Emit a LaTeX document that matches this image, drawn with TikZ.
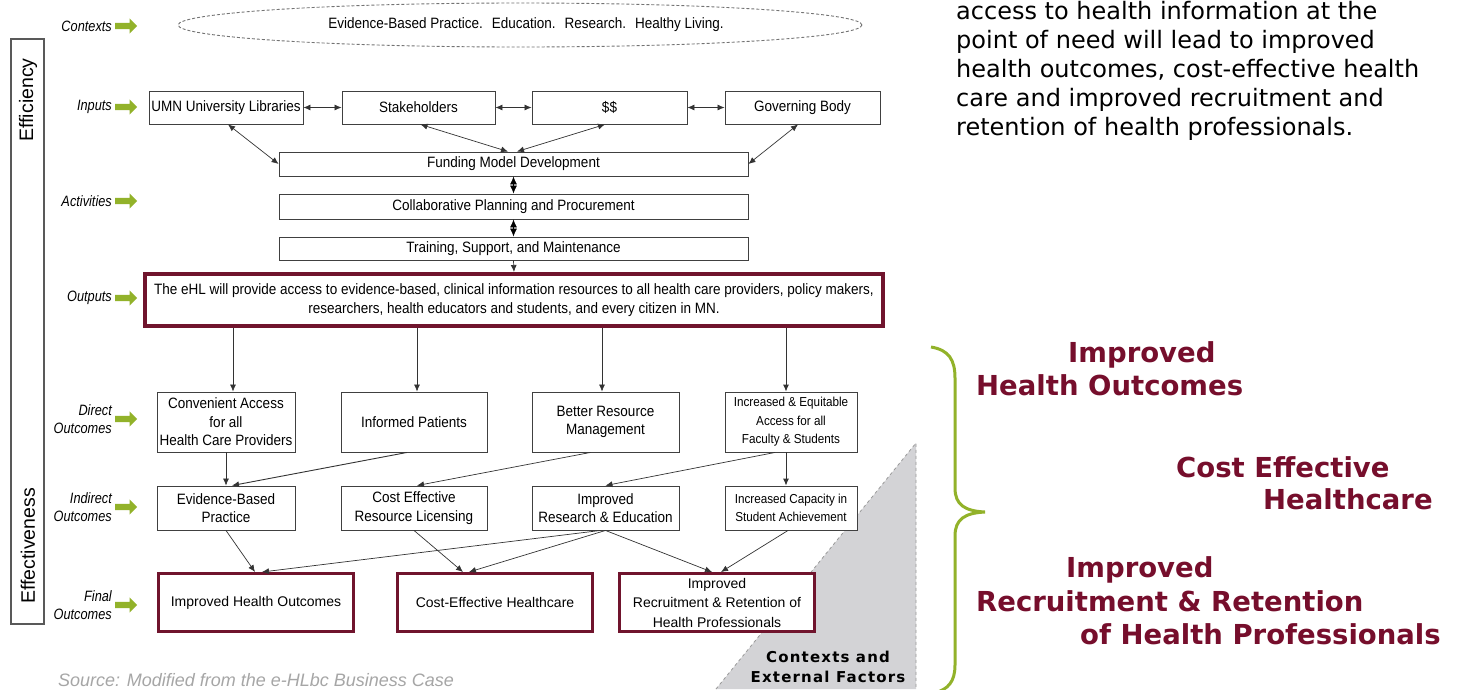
\documentclass[tikz,border=0pt]{standalone}
\usepackage{fontspec}
\setmainfont{Liberation Sans}
\newfontfamily\narfont{Liberation Sans}[FakeStretch=0.9]
\newfontfamily\labfont{Liberation Sans}[FakeStretch=0.85]
\newfontfamily\dvfont{DejaVu Sans}
\newfontfamily\dvwide{DejaVu Sans}[LetterSpace=8]
\usetikzlibrary{arrows.meta,shapes.geometric,shapes.arrows,backgrounds,calc}
\definecolor{gr}{RGB}{146,178,42}
\definecolor{mar}{RGB}{112,20,45}
\definecolor{marT}{RGB}{118,14,44}
\definecolor{tri}{RGB}{211,211,214}
\begin{document}
\begin{tikzpicture}[x=1pt,y=-1pt,
  box/.style={draw=black!75, line width=0.9pt, fill=white, align=center, inner sep=1pt, font={\narfont\fontsize{15}{18.5}\selectfont}},
  sbox/.style={box, font={\narfont\fontsize{13}{18.5}\selectfont}},
  fbox/.style={draw=mar, line width=3pt, fill=white, align=center, inner sep=1pt, minimum width=195pt, minimum height=58pt, font={\fontsize{14}{19.5}\selectfont}},
  lab/.style={anchor=east, align=right, inner sep=0pt, font={\labfont\itshape\fontsize{15}{18}\selectfont}},
  garr/.style={single arrow, fill=gr, draw=none, anchor=west, minimum height=22pt, inner sep=3pt, single arrow head extend=4.5pt},
  arr/.style={draw=black!80, line width=0.7pt, -{Latex[length=7pt,width=6pt]}},
  darr/.style={draw=black!80, line width=0.7pt, {Latex[length=7pt,width=6pt]}-{Latex[length=7pt,width=6pt]}},
  ctxl/.style={draw=black!55, line width=0.7pt, dash pattern=on 3pt off 2pt},
  dia/.style={draw=black, line width=0.7pt, {Latex[length=8pt,width=7pt]}-{Latex[length=8pt,width=7pt]}},
  mtext/.style={anchor=base west, inner sep=0pt, text=marT, font={\dvfont\bfseries\fontsize{27.5}{34}\selectfont}},
]
\useasboundingbox[fill=white] (0,0) rectangle (1460,689);

% grey triangle
\fill[tri] (716,689) -- (916,443) -- (916,689) -- cycle;
\draw[dashed, black!40, line width=0.8pt] (716,689) -- (916,443) -- (916,689);
\node[align=center, inner sep=0pt, font={\dvwide\bfseries\fontsize{15}{20}\selectfont}] (cef) at (828,667) {Contexts and\\External Factors};

% side box
\node[draw=black!65, line width=1.3pt, minimum width=33pt, minimum height=585pt, inner sep=0pt] (eff) at (27.5,331.5) {};
\node[rotate=90, inner sep=0pt, font={\fontsize{19.5}{22}\selectfont}] (effy) at (28,100) {Efficiency};
\node[rotate=90, inner sep=0pt, font={\fontsize{19.5}{22}\selectfont}] (effn) at (28,546) {Effectiveness};

% left labels
\node[lab] (l1) at (112,26) {Contexts};
\node[lab] (l2) at (112,107) {Inputs};
\node[lab] (l3) at (112,201) {Activities};
\node[lab] (l4) at (112,298) {Outputs};
\node[lab] (l5) at (112,419) {Direct\\Outcomes};
\node[lab] (l6) at (112,507) {Indirect\\Outcomes};
\node[lab] (l7) at (112,605) {Final\\Outcomes};
\node[garr] (g1) at (115,26) {};
\node[garr] (g2) at (115,107) {};
\node[garr] (g3) at (115,201) {};
\node[garr] (g4) at (115,298) {};
\node[garr] (g5) at (115,419) {};
\node[garr] (g6) at (115,507) {};
\node[garr] (g7) at (115,605) {};

% contexts ellipse
\node[ellipse, draw=black!55, line width=0.9pt, dash pattern=on 3pt off 2pt, fill=white, minimum width=684pt, minimum height=44pt, inner sep=0pt, font={\narfont\fontsize{15}{18}\selectfont}] (ctx) at (520,25)
 {\hspace{12pt}Evidence-Based Practice.\hspace{9pt}Education.\hspace{9pt}Research.\hspace{9pt}Healthy Living.};

% inputs
\node[box, minimum width=154pt, minimum height=33pt] (umn) at (226,107.5) {UMN University Libraries};
\node[box, minimum width=153pt, minimum height=33pt] (stake) at (418.5,107.5) {Stakeholders};
\node[box, minimum width=155pt, minimum height=33pt] (money) at (609.5,107.5) {\$\$};
\node[box, minimum width=155pt, minimum height=33pt] (gov) at (802.5,107.5) {Governing Body};

\coordinate (k1) at ([xshift=-8pt]umn.north);
\coordinate (k2) at ([xshift=-9.5pt]stake.north);
\coordinate (k3) at ([xshift=-7.5pt]money.north);
\coordinate (k4) at ([xshift=-8.5pt]gov.north);
\begin{scope}[on background layer]
\draw[ctxl] (k1) -- (k1 |- ctx.center);
\draw[ctxl] (k2) -- (k2 |- ctx.center);
\draw[ctxl] (k3) -- (k3 |- ctx.center);
\draw[ctxl] (k4) -- (k4 |- ctx.center);
\end{scope}

% activities
\node[box, minimum width=469pt, minimum height=24pt] (fund) at (513.5,164) {Funding Model Development};
\node[box, minimum width=469pt, minimum height=25pt] (collab) at (513.5,206.5) {Collaborative Planning and Procurement};
\node[box, minimum width=469pt, minimum height=23pt] (train) at (513.5,248.5) {Training, Support, and Maintenance};

% outputs
\node[box, draw=mar, line width=4pt, minimum width=738pt, minimum height=52pt, font={\narfont\fontsize{15}{19}\selectfont}] (out) at (514,300)
 {The eHL will provide access to evidence-based, clinical information resources to all health care providers, policy makers,\\researchers, health educators and students, and every citizen in MN.};

% direct outcomes
\node[box, minimum width=138pt, minimum height=60pt] (d1) at (226,422) {Convenient Access\\for all\\Health Care Providers};
\node[box, minimum width=146pt, minimum height=60pt] (d2) at (414,422) {Informed Patients};
\node[box, minimum width=147pt, minimum height=60pt] (d3) at (605.5,422) {Better Resource\\Management};
\node[sbox, minimum width=132pt, minimum height=60pt] (d4) at (791,422) {Increased \& Equitable\\Access for all\\Faculty \& Students};

% indirect outcomes
\node[box, minimum width=138pt, minimum height=44pt] (i1) at (226,508) {Evidence-Based\\Practice};
\node[box, minimum width=146pt, minimum height=44pt] (i2) at (414,508) {Cost Effective\\Resource Licensing};
\node[box, minimum width=147pt, minimum height=44pt] (i3) at (605.5,508) {Improved\\Research \& Education};
\node[sbox, minimum width=132pt, minimum height=44pt] (i4) at (791,508) {Increased Capacity in\\Student Achievement};

% final outcomes
\node[fbox] (f1) at (256,602.5) {Improved Health Outcomes};
\node[fbox] (f2) at (495,602.5) {Cost-Effective Healthcare};
\node[fbox] (f3) at (717,602.5) {Improved\\Recruitment \& Retention of\\Health Professionals};

% input connectors
\draw[darr] (umn) -- (stake);
\draw[darr] (stake) -- (money);
\draw[darr] (money) -- (gov);
\draw[darr] ([xshift=2pt]umn.south) -- (fund.west);
\draw[darr] ([xshift=2pt]stake.south) -- ([xshift=-5.5pt]fund.north);
\draw[darr] ([xshift=-4.5pt]money.south) -- ([xshift=3.5pt]fund.north);
\draw[darr] ([xshift=-4.5pt]gov.south) -- (fund.east);
\draw[dia] (fund.south) -- (collab.north);
\draw[dia] (collab.south) -- (train.north);
\draw[arr] (train.south) -- (out.north);

% outputs to direct
\coordinate (a1) at ([xshift=7pt]d1.north);
\coordinate (a2) at ([xshift=3pt]d2.north);
\coordinate (a3) at ([xshift=-3.5pt]d3.north);
\coordinate (a4) at ([xshift=-5pt]d4.north);
\draw[arr] (out.south -| a1) -- (a1);
\draw[arr] (out.south -| a2) -- (a2);
\draw[arr] (out.south -| a3) -- (a3);
\draw[arr, line width=0.9pt] (out.south -| a4) -- (a4);

% direct to indirect
\draw[arr] (d1.south) -- (i1.north);
\draw[arr, line width=0.9pt] ([xshift=-7pt]d2.south) -- ([xshift=6pt]i1.north);
\draw[arr] ([xshift=-15pt]d3.south) -- ([xshift=3pt]i2.north);
\draw[arr] ([xshift=-16pt]d4.south) -- (i3.north);
\draw[arr, line width=0.9pt] ([xshift=-5pt]d4.south) -- ([xshift=-5pt]i4.north);

% indirect to final
\draw[arr] (i1.south) -- ([xshift=-1pt]f1.north);
\draw[arr] ([xshift=-5pt]i3.south) -- ([xshift=6pt]f1.north);
\draw[arr] (i2.south) -- ([xshift=-32pt]f2.north);
\draw[arr] (i3.south) -- ([xshift=-26pt]f2.north);
\draw[arr] (i3.south) -- ([xshift=-5pt]f3.north);
\draw[arr] ([xshift=-3pt]i4.south) -- ([xshift=4pt]f3.north);

% source
\node[anchor=base west, inner sep=0pt, text=black!35, font={\itshape\fontsize{18}{22}\selectfont}] (src) at (58,686) {Source: Modified from the e-HLbc Business Case};

% right paragraph
\node[anchor=north west, align=left, inner sep=0pt, font={\dvfont\fontsize{24}{29}\selectfont}] (para) at (956,1)
 {access to health information at the\\point of need will lead to improved\\health outcomes, cost-effective health\\care and improved recruitment and\\retention of health professionals.};

% brace
\draw[gr, line width=3pt] (931,347) .. controls (949,350) and (955,360) .. (955,378) -- (955,488)
  .. controls (955,505) and (965,511) .. (985,512)
  .. controls (965,513) and (955,519) .. (955,536) -- (955,665)
  .. controls (955,682) and (948,689) .. (935,693);

% outcome texts
\node[mtext] (m1) at (1068,362) {Improved};
\node[mtext] (m2) at (976,395) {Health Outcomes};
\node[mtext] (m3) at (1176,477) {Cost Effective};
\node[mtext] (m4) at (1263,509) {Healthcare};
\node[mtext] (m5) at (1066,577) {Improved};
\node[mtext] (m6) at (976,611) {Recruitment \& Retention};
\node[mtext] (m7) at (1080,644) {of Health Professionals};
\end{tikzpicture}
\end{document}
